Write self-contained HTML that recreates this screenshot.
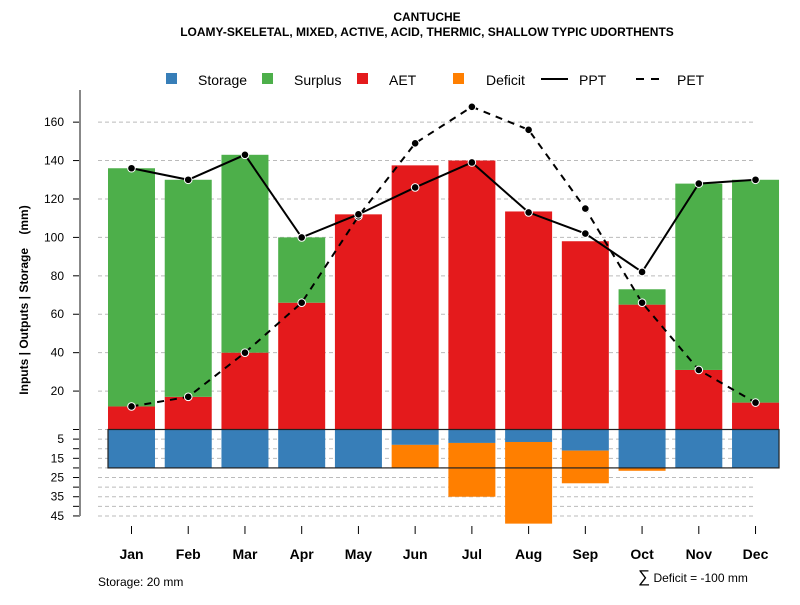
<!DOCTYPE html>
<html><head><meta charset="utf-8"><style>
body{margin:0;background:#fff;width:800px;height:600px;overflow:hidden}
svg{font-family:"Liberation Sans",Arial,sans-serif}
</style></head><body>
<svg id="c" width="800" height="600" viewBox="0 0 800 600" xmlns="http://www.w3.org/2000/svg">
<text x="427" y="21" text-anchor="middle" font-size="12" font-weight="bold">CANTUCHE</text>
<text x="427" y="36" text-anchor="middle" font-size="12" font-weight="bold">LOAMY-SKELETAL, MIXED, ACTIVE, ACID, THERMIC, SHALLOW TYPIC UDORTHENTS</text>
<g font-size="14">
<rect x="166" y="73" width="11" height="11" fill="#377eb8"/>
<text x="198" y="85">Storage</text>
<rect x="262" y="73" width="11" height="11" fill="#4daf4a"/>
<text x="294" y="85">Surplus</text>
<rect x="357" y="73" width="11" height="11" fill="#e41a1c"/>
<text x="389" y="85">AET</text>
<rect x="453" y="73" width="11" height="11" fill="#ff7f00"/>
<text x="486" y="85">Deficit</text>
<line x1="541" y1="79" x2="568" y2="79" stroke="#000" stroke-width="2"/>
<text x="579" y="85">PPT</text>
<line x1="636" y1="79" x2="662" y2="79" stroke="#000" stroke-width="2" stroke-dasharray="8,7"/>
<text x="677" y="85">PET</text>
</g>
<text transform="translate(28,300) rotate(-90)" text-anchor="middle" font-size="12" font-weight="bold" xml:space="preserve">Inputs | Outputs | Storage    (mm)</text>
<text x="98" y="586" font-size="12">Storage: 20 mm</text>
<text x="638" y="582" font-size="12"><tspan font-size="17">∑</tspan> Deficit = -100 mm</text>
<g id="g"></g>
</svg>
<script>
const months=["Jan","Feb","Mar","Apr","May","Jun","Jul","Aug","Sep","Oct","Nov","Dec"];
const ppt=[136,130,143,100,112,126,139,113,102,82,128,130];
const pet=[12,17,40,66,111,149,168,156,115,66,31,14];
const aet=[12,17,40,66,112,137.5,140,113.5,98,65,31,14];
const surplus=[124,113,103,34,0,0,0,0,0,8,97,116];
const storage=[20,20,20,20,20,8,7,6.5,11,20,20,20];
const deficit=[0,0,0,0,0,12,28,42.5,17,1.5,0,0];
const upperTicks=[20,40,60,80,100,120,140,160];
const lowerTicks=[5,15,25,35,45];
const storageCap=20;
const NS="http://www.w3.org/2000/svg";
const g=document.getElementById('g');
const K=1.921,Z=429.5;
const yU=v=>Z-v*K, yL=v=>Z+v*K, xM=i=>131.5+i*56.73, BW=47;
function mk(t,a,p){const e=document.createElementNS(NS,t);for(const k in a)e.setAttribute(k,a[k]);(p||g).appendChild(e);return e;}
upperTicks.forEach(v=>{
 const l=mk('line',{x1:98,x2:755,y1:yU(v),y2:yU(v),stroke:'#bbb','stroke-dasharray':'4,3'});
 
 
 const t=mk('line',{x1:73,x2:80,y1:yU(v),y2:yU(v),stroke:'#000'});
 
 
 const tx=mk('text',{x:64,y:yU(v)+4,'text-anchor':'end','font-size':12});tx.textContent=v;
 
 
});
for(let v=0;v<=45;v+=5){
 const l=mk('line',{x1:98,x2:755,y1:yL(v),y2:yL(v),stroke:'#bbb','stroke-dasharray':'4,3'});
 
 
 const t=mk('line',{x1:73,x2:80,y1:yL(v),y2:yL(v),stroke:'#000'});
 
 
}
lowerTicks.forEach(v=>{
 const tx=mk('text',{x:64,y:yL(v)+4,'text-anchor':'end','font-size':12});tx.textContent=v;
 
 
});
const ax=mk('line',{x1:80,x2:80,y1:90,y2:yL(45),stroke:'#888','stroke-width':2});


months.forEach((m,i)=>{
 const x=xM(i)-BW/2;
 const a=mk('rect',{x:x,y:yU(aet[i]),width:BW,height:aet[i]*K,fill:'#e41a1c'});
 
 
 if(surplus[i]>0){const s=mk('rect',{x:x,y:yU(aet[i]+surplus[i]),width:BW,height:surplus[i]*K,fill:'#4daf4a'});
 
 }
 const st=mk('rect',{x:x,y:Z,width:BW,height:storage[i]*K,fill:'#377eb8'});
 
 
 if(deficit[i]>0){const d=mk('rect',{x:x,y:yL(storage[i]),width:BW,height:deficit[i]*K,fill:'#ff7f00'});
 
 }
 const t=mk('line',{x1:xM(i),x2:xM(i),y1:526,y2:534,stroke:'#000'});
 
 
 const tx=mk('text',{x:xM(i),y:559,'text-anchor':'middle','font-size':14,'font-weight':'bold'});tx.textContent=m;
 
 
});
const box=mk('rect',{x:xM(0)-BW/2,y:Z,width:xM(11)-xM(0)+BW,height:storageCap*K,fill:'none',stroke:'#222','stroke-width':1.2});


function line(arr,name,dash){
 const p=mk('polyline',{points:arr.map((v,i)=>xM(i)+','+yU(v)).join(' '),fill:'none',stroke:'#000','stroke-width':2});
 if(dash)p.setAttribute('stroke-dasharray','7,6');
 
 
 arr.forEach((v,i)=>{const c=mk('circle',{cx:xM(i),cy:yU(v),r:3.8,fill:'#000',stroke:'#fff','stroke-width':1});
 
 });
}
line(pet,'pet',true);
line(ppt,'ppt',false);
</script>
</body></html>
